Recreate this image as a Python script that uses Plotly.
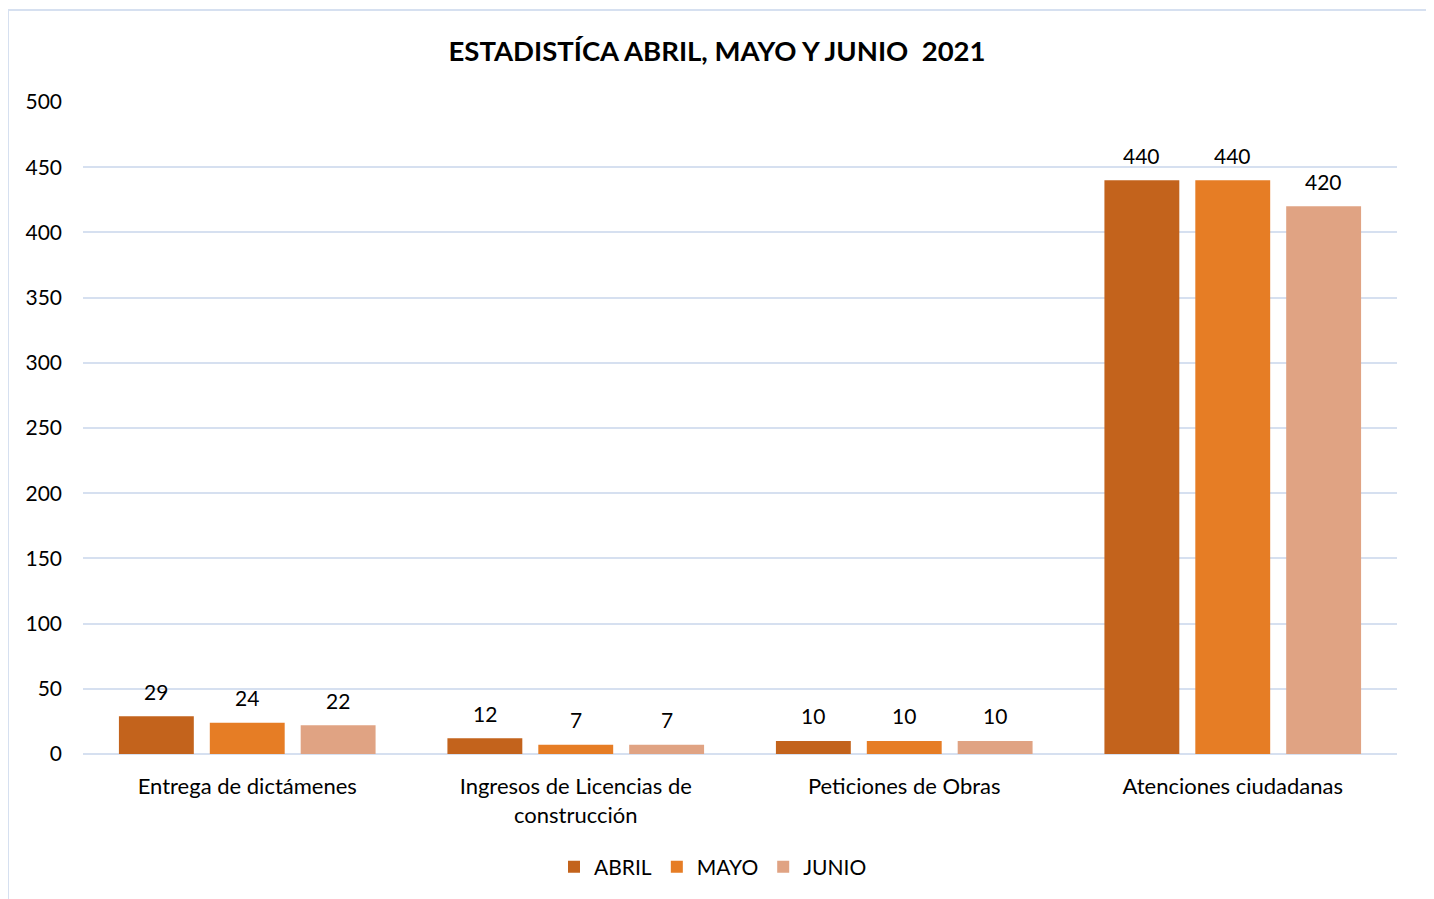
import plotly.graph_objects as go

categories = ["Entrega de dictámenes", "Ingresos de Licencias de<br>construcción",
              "Peticiones de Obras", "Atenciones ciudadanas"]
abril = [29, 12, 10, 440]
mayo = [24, 7, 10, 440]
junio = [22, 7, 10, 420]
series_names = ["ABRIL", "MAYO", "JUNIO"]
series_colors = ["#C3631C", "#E67D25", "#E0A383"]

FONT = "Lato, 'Open Sans', sans-serif"

# page body has an 8px margin; layout is expressed in figure coordinates
W, H = 1426, 899
ml, mt = 75, 94
pw, ph = 1389 - ml, 746 - mt
mr, mb = W - ml - pw, H - mt - ph

BARGAP, GROUPGAP = 0.17, 0.176
n_series = len(series_names)
slot_px = pw / len(categories) * (1 - BARGAP) / n_series

fig = go.Figure()
annotations = []
for i, (name, vals, col) in enumerate(zip(series_names, [abril, mayo, junio], series_colors)):
    fig.add_trace(go.Bar(
        x=categories, y=vals, name=name,
        marker=dict(color=col, line=dict(width=0)),
        cliponaxis=False,
    ))
    for c, v in zip(categories, vals):
        annotations.append(dict(
            x=c, y=v, xref="x", yref="y", text=str(v), showarrow=False,
            xshift=(i - (n_series - 1) / 2) * slot_px, yshift=25,
            yanchor="middle", xanchor="center",
            font=dict(size=21, color="#000000", family=FONT)))

fig.update_layout(
    width=W, height=H,
    margin=dict(l=ml, r=mr, t=mt, b=mb),
    paper_bgcolor="white", plot_bgcolor="white",
    font=dict(family=FONT, size=20, color="#000000"),
    title=dict(text="<b>ESTADISTÍCA ABRIL, MAYO Y JUNIO  2021</b>",
               x=(717 - 8) / W, xanchor="center", y=1 - 43 / H, yanchor="middle",
               font=dict(size=27.5, family=FONT, color="#000000")),
    barmode="group", bargap=BARGAP, bargroupgap=GROUPGAP,
    showlegend=True,
    legend=dict(orientation="h", x=0.5 - 27 / pw, xanchor="center", y=-(859 - 746) / ph,
                yanchor="middle", font=dict(size=21, family=FONT),
                itemwidth=30, traceorder="normal"),
    xaxis=dict(showgrid=False, showline=False, ticks="", tickfont=dict(size=22),
               ticklabelstandoff=17),
    yaxis=dict(range=[0, 500], dtick=50, showgrid=True, gridcolor="#D6E0F0",
               gridwidth=2, zeroline=True, zerolinecolor="#D6E0F0", zerolinewidth=2,
               showline=False, ticks="", tickfont=dict(size=21),
               ticklabelstandoff=20),
    annotations=annotations,
    shapes=[dict(type="rect", xref="paper", yref="paper",
                 x0=(0 - ml) / pw, x1=(1419 - ml) / pw,
                 y0=-(H + 10 - (mt + ph)) / ph, y1=(mt + ph - 2) / ph,
                 line=dict(color="#D6E0F0", width=2), layer="below")],
)

fig.write_html("out.html")
